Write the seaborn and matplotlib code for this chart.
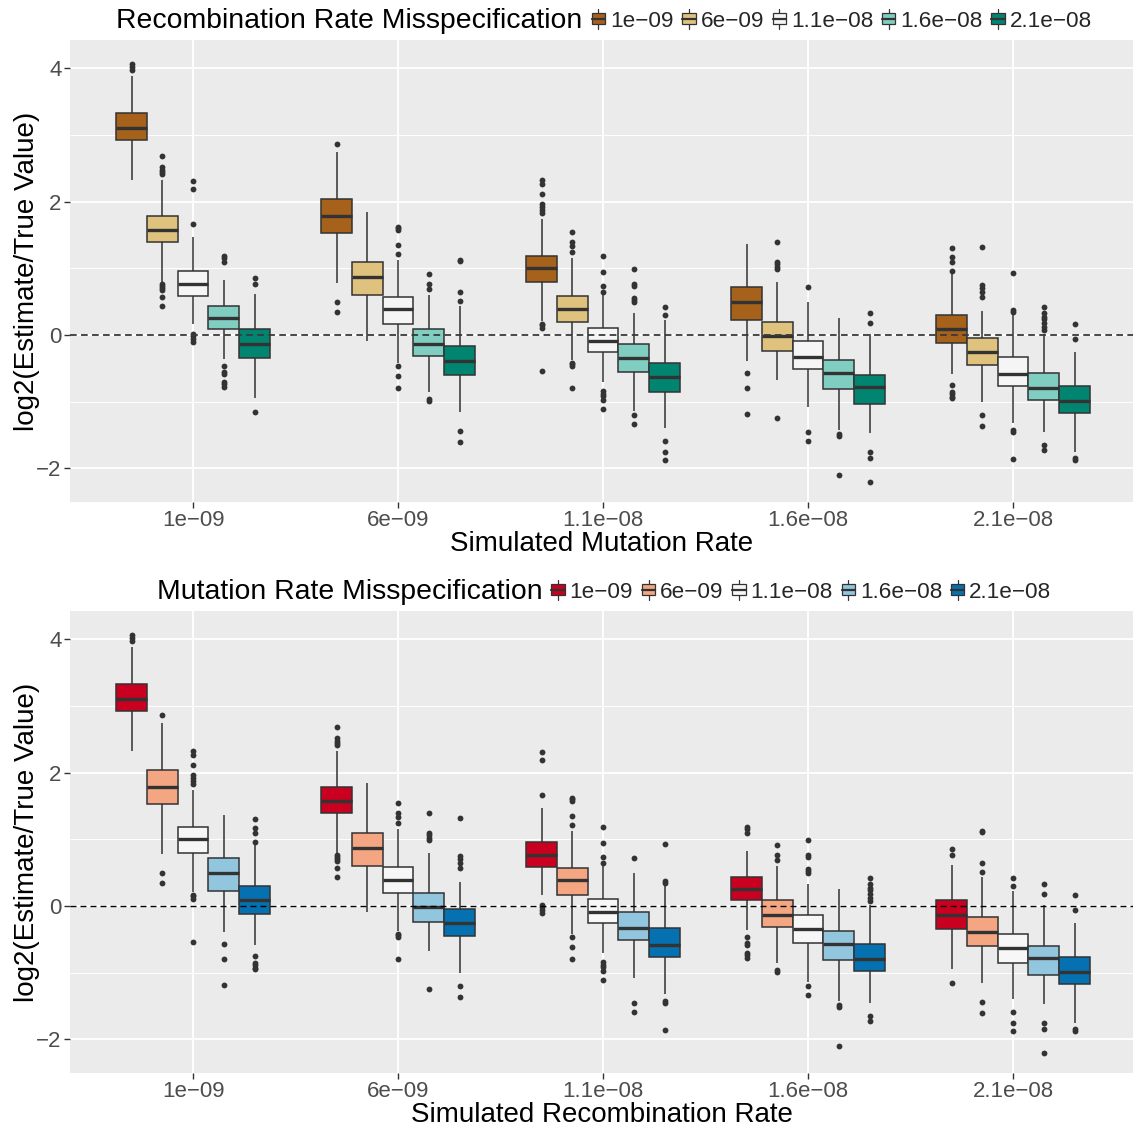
import numpy as np
import pandas as pd
import matplotlib
matplotlib.use("Agg")
import matplotlib.pyplot as plt
import seaborn as sns
from matplotlib.patches import Patch, Rectangle
from matplotlib.lines import Line2D
from matplotlib.legend_handler import HandlerBase
from matplotlib.ticker import FixedLocator

# Rate levels (used both as simulated values and as assumed values)
RATES = ["1e\u221209", "6e\u221209", "1.1e\u221208", "1.6e\u221208", "2.1e\u221208"]

# Box summaries of log2(estimate / true value).
# Rows: simulated mutation rate; columns: recombination rate assumed in inference.
Q1 = [
    [2.92, 1.39, 0.59, 0.085, -0.35],
    [1.53, 0.60, 0.16, -0.31, -0.60],
    [0.79, 0.195, -0.25, -0.56, -0.86],
    [0.22, -0.235, -0.51, -0.805, -1.03],
    [-0.115, -0.455, -0.76, -0.975, -1.165],
]
MEDIAN = [
    [3.10, 1.57, 0.77, 0.26, -0.135],
    [1.78, 0.87, 0.385, -0.13, -0.385],
    [1.00, 0.39, -0.095, -0.35, -0.635],
    [0.495, -0.015, -0.33, -0.565, -0.775],
    [0.085, -0.255, -0.585, -0.79, -0.985],
]
Q3 = [
    [3.33, 1.79, 0.96, 0.43, 0.085],
    [2.04, 1.10, 0.57, 0.085, -0.165],
    [1.19, 0.585, 0.105, -0.14, -0.415],
    [0.72, 0.20, -0.095, -0.37, -0.595],
    [0.305, -0.05, -0.325, -0.57, -0.76],
]
WHISKER_LO = [
    [2.32, 0.80, 0.17, -0.365, -0.95],
    [0.78, -0.085, -0.42, -0.86, -1.16],
    [0.21, -0.38, -0.71, -1.14, -1.39],
    [-0.39, -0.68, -1.08, -1.42, -1.47],
    [-0.58, -1.00, -1.32, -1.46, -1.76],
]
WHISKER_HI = [
    [3.88, 2.32, 1.47, 0.83, 0.62],
    [2.74, 1.84, 1.12, 0.60, 0.44],
    [1.74, 1.15, 0.60, 0.33, 0.23],
    [1.36, 0.79, 0.50, 0.25, 0.01],
    [0.91, 0.365, 0.31, 0.02, -0.26],
]
OUTLIERS = [
    [[3.98, 4.02, 4.06],
     [0.44, 0.57, 0.67, 0.71, 0.74, 0.76, 2.41, 2.44, 2.48, 2.52, 2.68],
     [-0.10, -0.055, -0.015, 0.015, 1.67, 2.19, 2.31],
     [-0.78, -0.74, -0.70, -0.58, -0.55, -0.46, 1.10, 1.15, 1.19],
     [-1.16, 0.76, 0.85]],
    [[0.35, 0.50, 2.86],
     [],
     [-0.80, -0.61, -0.47, 1.22, 1.35, 1.57, 1.60, 1.62],
     [-0.985, -0.965, 0.69, 0.76, 0.92],
     [-1.61, -1.44, 0.51, 0.65, 1.11, 1.125]],
    [[-0.54, 0.11, 0.145, 0.17, 1.83, 1.87, 1.92, 1.97, 2.11, 2.26, 2.33],
     [-0.79, -0.46, -0.44, -0.42, 1.24, 1.33, 1.39, 1.54],
     [-1.11, -0.98, -0.92, -0.88, -0.84, 0.65, 0.73, 0.94, 1.19],
     [-1.34, -1.20, 0.50, 0.53, 0.56, 0.73, 0.76, 0.99],
     [-1.88, -1.75, -1.59, 0.295, 0.42]],
    [[-1.18, -0.79, -0.565],
     [-1.25, 0.985, 1.025, 1.06, 1.10, 1.39],
     [-1.59, -1.46, 0.715],
     [-2.10, -1.51, -1.485],
     [-2.21, -1.85, -1.76, 0.185, 0.33]],
    [[-0.95, -0.925, -0.885, -0.85, -0.755, 0.96, 1.09, 1.175, 1.31],
     [-1.36, -1.20, 0.575, 0.65, 0.70, 0.75, 1.32],
     [-1.86, -1.46, -1.43, 0.35, 0.38, 0.925],
     [-1.72, -1.65, 0.075, 0.125, 0.175, 0.235, 0.275, 0.325, 0.425],
     [-1.875, -1.84, -0.06, 0.16]],
]

RECOMB_COLORS = ["#A6611A", "#DFC27D", "#F5F5F5", "#80CDC1", "#018571"]
MUT_COLORS = ["#CA0020", "#F4A582", "#F7F7F7", "#92C5DE", "#0571B0"]

EDGE = "#333333"


def box_sample(q1, med, q3, lo, hi, out):
    """Observations whose quartiles, whisker ends and outliers equal the given summary."""
    low = sorted(v for v in out if v < q1)
    high = sorted(v for v in out if v > q3)
    m = max(len(low), len(high)) + 1
    vals = (low + [lo] + [q1] * (m - len(low) - 1)
            + [q1] + [med] * (m - 1) + [med] + [med] * (m - 1) + [q3]
            + [q3] * (m - len(high) - 1) + [hi] + high)
    return vals


def build_frame(transpose):
    rows = []
    for g in range(5):
        for h in range(5):
            i, j = (h, g) if transpose else (g, h)
            for v in box_sample(Q1[i][j], MEDIAN[i][j], Q3[i][j],
                                WHISKER_LO[i][j], WHISKER_HI[i][j], OUTLIERS[i][j]):
                rows.append((RATES[g], RATES[h], v))
    return pd.DataFrame(rows, columns=["simulated", "assumed", "log2ratio"])


class BoxKeyHandler(HandlerBase):
    def create_artists(self, legend, orig_handle, xdescent, ydescent,
                       width, height, fontsize, trans):
        x0, y0 = -xdescent, -ydescent
        cx = x0 + width / 2
        fc = orig_handle.get_facecolor()
        whisker = Line2D([cx, cx], [y0 - 0.1 * height, y0 + 1.1 * height],
                         color=EDGE, lw=0.9, transform=trans)
        box = Rectangle((x0, y0 + 0.18 * height), width, 0.64 * height,
                        facecolor=fc, edgecolor=EDGE, lw=0.9, transform=trans)
        median = Line2D([x0, x0 + width], [y0 + height / 2] * 2,
                        color=EDGE, lw=1.6, transform=trans)
        return [whisker, box, median]


sns.set_theme(style="darkgrid", rc={"axes.facecolor": "#EBEBEB", "grid.color": "white"})
plt.rcParams["font.family"] = ["Liberation Sans", "DejaVu Sans"]

W_PX, H_PX = 1133, 1129
fig = plt.figure(figsize=(W_PX / 100, H_PX / 100), dpi=100)
fig.patch.set_facecolor("white")

YLIM = (-2.505, 4.425)


def draw_panel(top_px, df, palette, xlabel, title, zero_style):
    bottom_px = top_px + 462
    ax = fig.add_axes([70 / W_PX, 1 - bottom_px / H_PX, (W_PX - 70) / W_PX, 462 / H_PX])
    sns.boxplot(
        data=df, x="simulated", y="log2ratio", hue="assumed",
        order=RATES, hue_order=RATES, palette=palette, saturation=1,
        width=0.75, gap=0, dodge=True, whis=1.5,
        linecolor=EDGE, linewidth=1.1, legend=False, showcaps=False,
        medianprops=dict(linewidth=2.4, color=EDGE),
        flierprops=dict(marker="o", markersize=4.2, markerfacecolor=EDGE,
                        markeredgecolor=EDGE, markeredgewidth=0),
        ax=ax,
    )
    color, lw, dashes = zero_style
    ax.axhline(0, color=color, lw=lw, ls=(0, dashes), zorder=10)

    ax.set_xlim(-0.6, 4.585)
    ax.set_ylim(*YLIM)
    ax.set_yticks([-2, 0, 2, 4])
    ax.yaxis.set_minor_locator(FixedLocator([-1, 1, 3]))
    ax.set_facecolor("#EBEBEB")
    ax.set_axisbelow(True)
    ax.grid(True, which="major", color="white", lw=1.3)
    ax.grid(True, which="minor", axis="y", color="white", lw=0.65)
    for s in ax.spines.values():
        s.set_visible(False)
    ax.tick_params(which="major", length=4, width=1.0, color=EDGE,
                   labelsize=16, labelcolor="#4D4D4D", pad=2,
                   bottom=True, left=True)
    ax.tick_params(which="minor", length=0)
    ax.set_xlabel(xlabel, fontsize=20, color="black", labelpad=0)
    ax.set_ylabel("log2(Estimate/True Value)", fontsize=20, color="black", labelpad=-3)

    # Title and legend share one centred row above the panel
    y_row = 1 - (top_px - 19) / H_PX
    t = fig.text(0, y_row, title, fontsize=20.4, color="black", ha="left", va="center")
    handles = [Patch(facecolor=c, edgecolor=EDGE) for c in palette]
    leg = fig.legend(handles, RATES, loc="center left", bbox_to_anchor=(0, y_row),
                     bbox_transform=fig.transFigure, ncol=5, frameon=False,
                     fontsize=16.2, handlelength=0.6, handleheight=0.75,
                     handletextpad=0.22, columnspacing=0.38, borderpad=0,
                     borderaxespad=0,
                     handler_map={Patch: BoxKeyHandler()})
    return ax, t, leg


top = draw_panel(40, build_frame(False), RECOMB_COLORS, "Simulated Mutation Rate",
                 "Recombination Rate Misspecification", ("#3a3a3a", 1.3, (3.7, 2.4)))
bot = draw_panel(611, build_frame(True), MUT_COLORS, "Simulated Recombination Rate",
                 "Mutation Rate Misspecification", ("black", 1.0, (4.3, 2.9)))

fig.canvas.draw()
renderer = fig.canvas.get_renderer()
centre_px = 604
gap_px = 9
for ax, t, leg in (top, bot):
    tw = t.get_window_extent(renderer).width
    lw_ = leg.get_window_extent(renderer).width
    x0 = centre_px - (tw + gap_px + lw_) / 2
    t.set_x(x0 / W_PX)
    leg.set_bbox_to_anchor((((x0 + tw + gap_px) / W_PX), t.get_position()[1]),
                           transform=fig.transFigure)

fig.savefig("out.png", dpi=100, facecolor="white")
